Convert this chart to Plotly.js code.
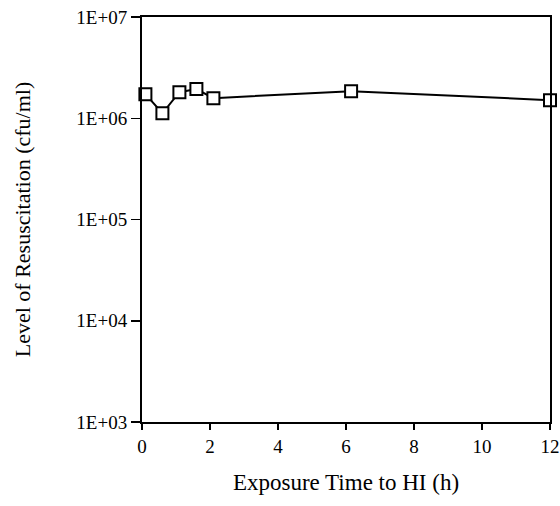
<!DOCTYPE html>
<html>
<head>
<meta charset="utf-8">
<script src="https://cdn.plot.ly/plotly-3.0.1.min.js"></script>
<style>html,body{margin:0;padding:0;background:#fff;}#chart{width:560px;height:506px;}</style>
</head>
<body>
<div id="chart"></div>
<script>
var exposureHours = [0.1, 0.6, 1.1, 1.6, 2.1, 6.15, 12];
var resuscitation = [1.73e6, 1.12e6, 1.81e6, 1.94e6, 1.58e6, 1.85e6, 1.51e6];
var yTickVals = [1e3, 1e4, 1e5, 1e6, 1e7];
var yTickText = ["1E+03", "1E+04", "1E+05", "1E+06", "1E+07"];
var xTickVals = [0, 2, 4, 6, 8, 10, 12];

var trace = {
  x: exposureHours,
  y: resuscitation,
  type: 'scatter',
  mode: 'lines+markers',
  line: {color: '#000', width: 2},
  marker: {symbol: 'square', size: 12, color: '#fff', line: {color: '#000', width: 2}},
  cliponaxis: false,
  hoverinfo: 'none'
};

var fam = '"Liberation Serif", "Times New Roman", serif';

var layout = {
  width: 560, height: 506,
  margin: {l: 142, r: 10, t: 17, b: 84},
  paper_bgcolor: '#fff', plot_bgcolor: '#fff',
  showlegend: false,
  font: {family: fam, color: '#000', size: 19},
  xaxis: {
    range: [0, 12],
    tickvals: xTickVals,
    ticktext: xTickVals.map(String),
    ticks: 'outside', ticklen: 6, tickwidth: 1.5, tickcolor: '#000',
    showline: true, linecolor: '#000', linewidth: 2, mirror: true,
    showgrid: false, zeroline: false,
    tickfont: {family: fam, size: 19, color: '#000'},
    title: {text: 'Exposure Time to HI (h)', font: {family: fam, size: 23, color: '#000'}, standoff: 18}
  },
  yaxis: {
    type: 'log',
    range: [3, 7],
    tickvals: yTickVals,
    ticktext: yTickText,
    ticks: 'outside', ticklen: 9, tickwidth: 1.5, tickcolor: '#000',
    showline: true, linecolor: '#000', linewidth: 2, mirror: true,
    showgrid: false, zeroline: false,
    tickfont: {family: fam, size: 19, color: '#000'},
    title: {text: 'Level of Resuscitation (cfu/ml)', font: {family: fam, size: 22, color: '#000'}, standoff: 40}
  }
};

Plotly.newPlot('chart', [trace], layout, {displayModeBar: false, staticPlot: true});
</script>
</body>
</html>
